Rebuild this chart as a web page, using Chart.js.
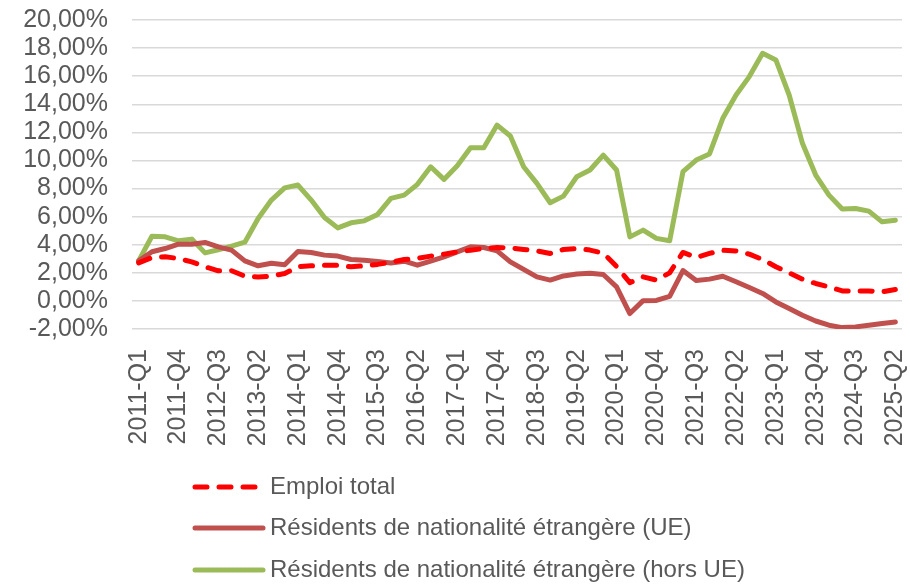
<!DOCTYPE html>
<html>
<head>
<meta charset="utf-8">
<script src="https://cdn.jsdelivr.net/npm/chart.js@4.4.1/dist/chart.umd.min.js"></script>
<style>
  html, body { margin: 0; padding: 0; background: #ffffff; }
  #wrap { width: 910px; height: 585px; position: relative; }
</style>
</head>
<body>
<div id="wrap"><canvas id="c" width="910" height="585"></canvas></div>
<script>
const quarters = [
  "2011-Q1","2011-Q2","2011-Q3","2011-Q4","2012-Q1","2012-Q2","2012-Q3","2012-Q4",
  "2013-Q1","2013-Q2","2013-Q3","2013-Q4","2014-Q1","2014-Q2","2014-Q3","2014-Q4",
  "2015-Q1","2015-Q2","2015-Q3","2015-Q4","2016-Q1","2016-Q2","2016-Q3","2016-Q4",
  "2017-Q1","2017-Q2","2017-Q3","2017-Q4","2018-Q1","2018-Q2","2018-Q3","2018-Q4",
  "2019-Q1","2019-Q2","2019-Q3","2019-Q4","2020-Q1","2020-Q2","2020-Q3","2020-Q4",
  "2021-Q1","2021-Q2","2021-Q3","2021-Q4","2022-Q1","2022-Q2","2022-Q3","2022-Q4",
  "2023-Q1","2023-Q2","2023-Q3","2023-Q4","2024-Q1","2024-Q2","2024-Q3","2024-Q4",
  "2025-Q1","2025-Q2"
];

const emploiTotal = [
  2.71, 3.09, 3.14, 3.02, 2.78, 2.43, 2.14, 2.15, 1.76, 1.71,
  1.76, 1.95, 2.43, 2.50, 2.54, 2.54, 2.43, 2.50, 2.60, 2.75,
  2.95, 3.02, 3.19, 3.33, 3.49, 3.61, 3.73, 3.80, 3.78, 3.66,
  3.56, 3.38, 3.66, 3.73, 3.62, 3.40, 2.45, 1.30, 1.71, 1.48,
  2.00, 3.45, 3.09, 3.38, 3.61, 3.56, 3.33, 2.95, 2.43, 2.00,
  1.55, 1.24, 1.00, 0.71, 0.71, 0.71, 0.64, 0.81
];

const residentsUE = [
  2.85, 3.50, 3.73, 4.04, 4.04, 4.16, 3.85, 3.62, 2.85, 2.50,
  2.68, 2.57, 3.52, 3.45, 3.26, 3.19, 2.95, 2.90, 2.81, 2.70,
  2.83, 2.54, 2.83, 3.14, 3.49, 3.85, 3.80, 3.56, 2.78, 2.24,
  1.71, 1.48, 1.78, 1.92, 1.97, 1.88, 1.00, -0.90, 0.02, 0.03,
  0.33, 2.16, 1.45, 1.55, 1.76, 1.36, 0.95, 0.53, -0.07, -0.54,
  -1.02, -1.43, -1.73, -1.90, -1.85, -1.73, -1.61, -1.50
];

const residentsHorsUE = [
  2.85, 4.60, 4.56, 4.28, 4.40, 3.42, 3.64, 3.90, 4.18, 5.87,
  7.18, 8.05, 8.25, 7.18, 5.94, 5.20, 5.56, 5.70, 6.16, 7.30,
  7.53, 8.30, 9.55, 8.65, 9.62, 10.90, 10.90, 12.52, 11.74, 9.55,
  8.37, 6.99, 7.46, 8.84, 9.32, 10.38, 9.32, 4.56, 5.04, 4.45,
  4.28, 9.20, 10.03, 10.46, 13.00, 14.66, 15.97, 17.63, 17.16, 14.66,
  11.22, 8.96, 7.53, 6.54, 6.58, 6.39, 5.63, 5.75
];

const seriesNames = [
  "Emploi total",
  "Résidents de nationalité étrangère (UE)",
  "Résidents de nationalité étrangère (hors UE)"
];

const yMin = -2, yMax = 20, yStep = 2;
const labelEvery = 3;

const FONT = "'Liberation Sans', Arial, sans-serif";
const TEXT = "#595959";

const customLegend = {
  id: 'customLegend',
  afterDraw(chart) {
    const ctx = chart.ctx;
    const x0 = 193, x1 = 263, tx = 270;
    const rows = [487, 528, 570];
    ctx.save();
    ctx.font = "24px " + FONT;
    ctx.fillStyle = TEXT;
    ctx.textBaseline = 'middle';
    ctx.textAlign = 'left';
    chart.data.datasets.forEach((ds, i) => {
      const y = rows[i];
      ctx.save();
      ctx.strokeStyle = ds.borderColor;
      ctx.lineWidth = ds.borderWidth;
      ctx.lineCap = 'round';
      ctx.setLineDash(ds.borderDash || []);
      ctx.beginPath();
      ctx.moveTo(x0 + 2, y);
      ctx.lineTo(x1 - (ds.borderDash ? 5 : 0), y);
      ctx.stroke();
      ctx.restore();
      ctx.fillText(ds.label, tx, y);
    });
    ctx.restore();
  }
};

new Chart(document.getElementById('c'), {
  type: 'line',
  data: {
    labels: quarters,
    datasets: [
      {
        label: seriesNames[0],
        data: emploiTotal,
        borderColor: '#FF0000',
        borderWidth: 5,
        borderDash: [12, 12],
        borderCapStyle: 'round',
        borderJoinStyle: 'round',
        pointRadius: 0,
        tension: 0,
        fill: false
      },
      {
        label: seriesNames[1],
        data: residentsUE,
        borderColor: '#C0504D',
        borderWidth: 5,
        borderCapStyle: 'round',
        borderJoinStyle: 'round',
        pointRadius: 0,
        tension: 0,
        fill: false
      },
      {
        label: seriesNames[2],
        data: residentsHorsUE,
        borderColor: '#9BBB59',
        borderWidth: 5,
        borderCapStyle: 'round',
        borderJoinStyle: 'round',
        pointRadius: 0,
        tension: 0,
        fill: false
      }
    ]
  },
  options: {
    responsive: false,
    animation: false,
    devicePixelRatio: 1,
    layout: { padding: { left: 0, right: 8, top: 20, bottom: 0 } },
    plugins: {
      legend: { display: false },
      tooltip: { enabled: false }
    },
    scales: {
      x: {
        offset: true,
        grid: { display: false, drawTicks: false },
        border: { display: false },
        afterFit(s) { s.height = 256; s.paddingLeft = 0; s.paddingRight = 0; },
        ticks: {
          autoSkip: false,
          minRotation: 90,
          maxRotation: 90,
          padding: 20,
          color: TEXT,
          font: { family: FONT, size: 25 },
          callback(value, index) {
            return index % labelEvery === 0 ? quarters[index] : '';
          }
        }
      },
      y: {
        min: yMin,
        max: yMax,
        afterFit(s) { s.width = 132; s.paddingTop = 0; s.paddingBottom = 0; },
        grid: { color: '#D9D9D9', lineWidth: 1.5, drawTicks: false },
        border: { display: false },
        ticks: {
          stepSize: yStep,
          autoSkip: false,
          padding: 24,
          color: TEXT,
          font: { family: FONT, size: 25 },
          callback(v) {
            return v.toFixed(2).replace('.', ',') + '%';
          }
        }
      }
    }
  },
  plugins: [customLegend]
});
</script>
</body>
</html>
